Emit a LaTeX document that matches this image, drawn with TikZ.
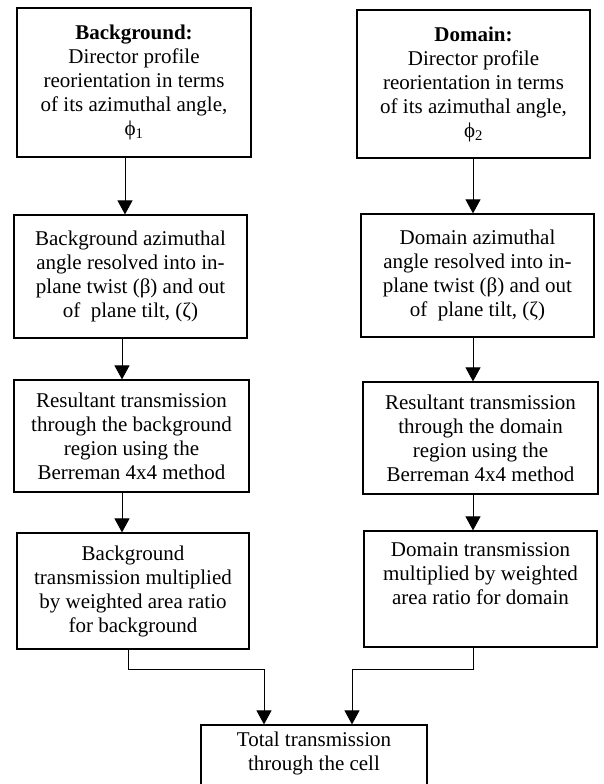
\documentclass[tikz,border=0pt]{standalone}
\usepackage{fontspec}
\setmainfont{Liberation Serif}
\usetikzlibrary{arrows.meta}
\begin{document}
\begin{tikzpicture}[x=1pt,y=-1pt,
  box/.style={draw, line width=1.2pt, inner sep=0pt, align=center,
    font=\fontsize{21}{24}\selectfont},
  conn/.style={line width=1pt, -{Triangle[width=15pt,length=14pt]}}]
\useasboundingbox (0,0) rectangle (603,784);
\fill[white] (0,0) rectangle (603,784);
% left column
\node[box, minimum width=234pt, minimum height=149pt] (L1) at (134,82.5)
  {\textbf{Background:}\\Director profile\\reorientation in terms\\of its azimuthal angle,\\ϕ\textsubscript{1}};
\node[box, minimum width=233pt, minimum height=123pt] (L2) at (130.5,276.5)
  {Background azimuthal\\angle resolved into in-\\plane twist (β) and out\\of~ plane tilt, (ζ)};
\node[box, minimum width=235pt, minimum height=112pt] (L3) at (131.5,436)
  {Resultant transmission\\through the background\\region using the\\Berreman 4x4 method};
\node[box, minimum width=232pt, minimum height=116pt] (L4) at (133,591)
  {Background\\transmission multiplied\\by weighted area ratio\\for background};
% right column
\node[box, minimum width=233pt, minimum height=148pt] (R1) at (473.5,84)
  {\textbf{Domain:}\\Director profile\\reorientation in terms\\of its azimuthal angle,\\ϕ\textsubscript{2}};
\node[box, minimum width=233pt, minimum height=123pt] (R2) at (477.5,275.5)
  {Domain azimuthal\\angle resolved into in-\\plane twist (β) and out\\of~ plane tilt, (ζ)};
\node[box, minimum width=235pt, minimum height=112pt] (R3) at (480.5,438)
  {Resultant transmission\\through the domain\\region using the\\Berreman 4x4 method};
\node[box, minimum width=233pt, minimum height=116pt] (R4) at (480.5,589)
  {Domain transmission\\multiplied by weighted\\area ratio for domain\\\strut};
% bottom
\node[box, minimum width=226pt, minimum height=84pt] (B) at (314,767)
  {Total transmission\\through the cell\\\strut};
% connector x positions
\coordinate (xa) at (125,0);
\coordinate (xb) at (122,0);
\coordinate (xc) at (128,0);
\coordinate (xr) at (473,0);
\coordinate (jl) at (264,669);
\coordinate (jr) at (352,669);
\draw[conn] (L1.south -| xa) -- (L2.north -| xa);
\draw[conn] (L2.south -| xb) -- (L3.north -| xb);
\draw[conn] (L3.south -| xb) -- (L4.north -| xb);
\draw[conn] (R1.south -| xr) -- (R2.north -| xr);
\draw[conn] (R2.south -| xr) -- (R3.north -| xr);
\draw[conn] (R3.south -| xr) -- (R4.north -| xr);
\draw[conn] (L4.south -| xc) |- (jl) -- (B.north -| jl);
\draw[conn] (R4.south -| xr) |- (jr) -- (B.north -| jr);
\end{tikzpicture}
\end{document}
